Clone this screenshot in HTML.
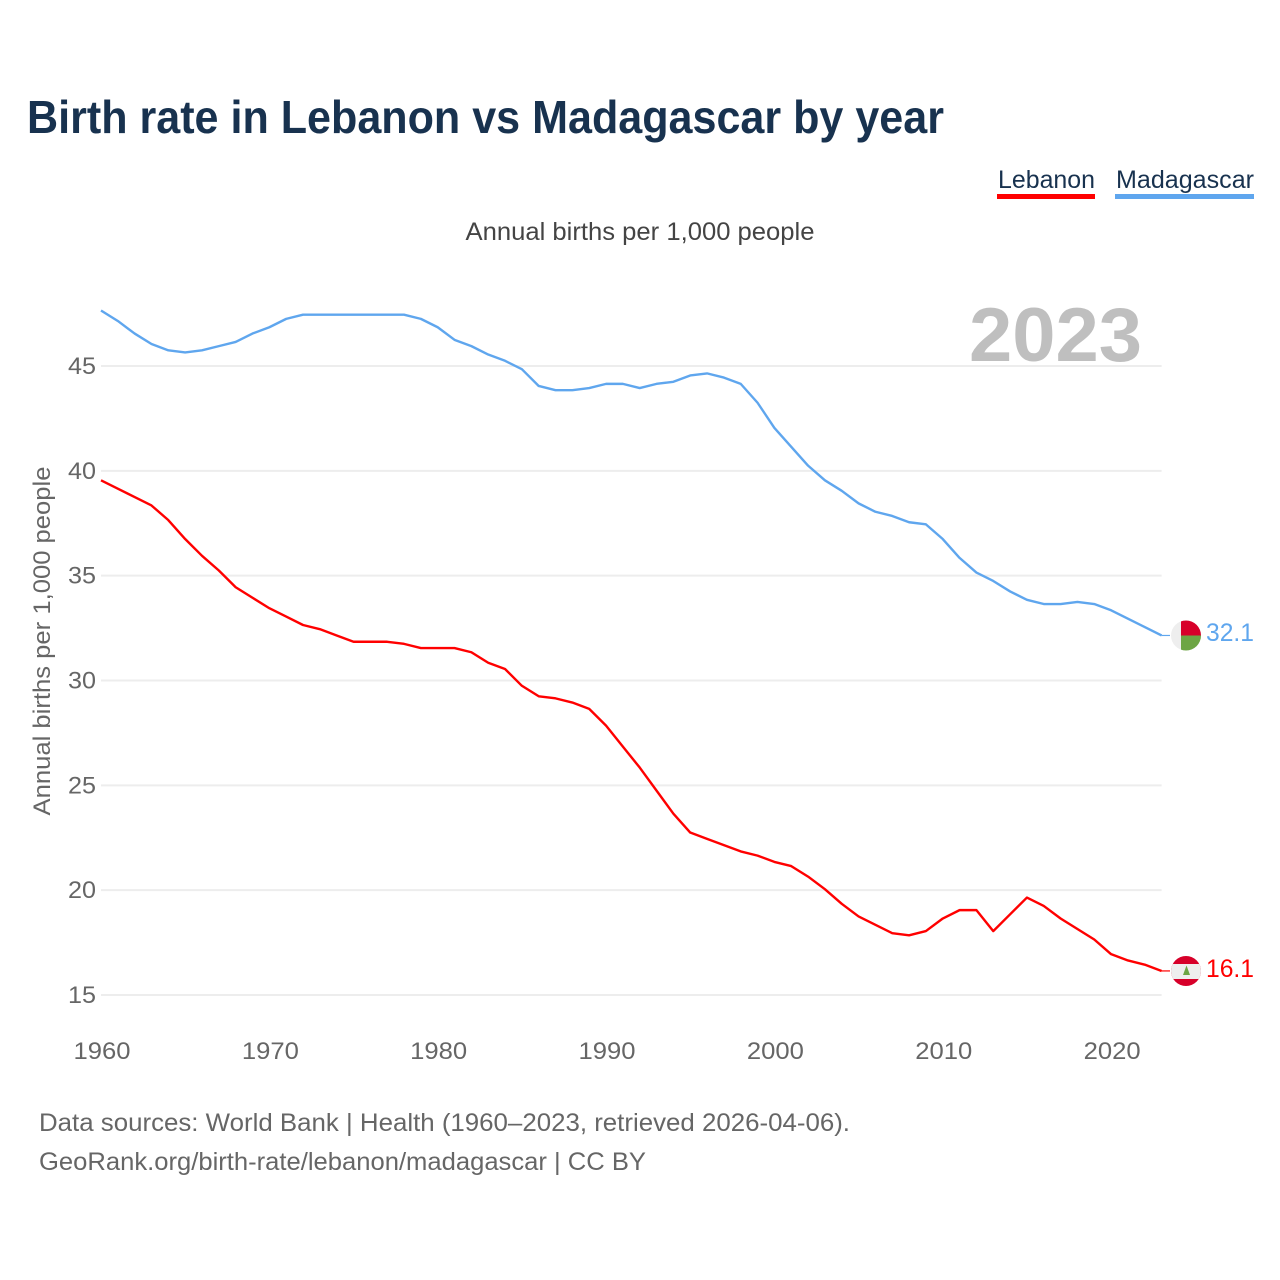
<!DOCTYPE html>
<html lang="en">
<head>
<meta charset="utf-8">
<title>Birth rate in Lebanon vs Madagascar by year</title>
<style>
html,body{margin:0;padding:0;background:#fff;width:1280px;height:1280px;overflow:hidden}
svg{display:block}
text{font-family:"Liberation Sans",sans-serif}
</style>
</head>
<body>
<svg id="chart" xmlns="http://www.w3.org/2000/svg" width="1280" height="1280" viewBox="0 0 1280 1280">
  <defs>
    <clipPath id="flag-clip-mg"><circle cx="1186" cy="635.5" r="15"/></clipPath>
    <clipPath id="flag-clip-lb"><circle cx="1186" cy="971" r="15"/></clipPath>
  </defs>
  <rect width="1280" height="1280" fill="#fff"/>
  <text x="27" y="133" font-size="46" font-weight="700" fill="#18324f" textLength="917" lengthAdjust="spacingAndGlyphs">Birth rate in Lebanon vs Madagascar by year</text>

  <g>
    <text x="998" y="188" font-size="25" fill="#18324f" textLength="97" lengthAdjust="spacingAndGlyphs">Lebanon</text>
    <rect x="997" y="194" width="98" height="5" fill="#ff0000"/>
  </g>
  <g>
    <text x="1116" y="188" font-size="25" fill="#18324f" textLength="138" lengthAdjust="spacingAndGlyphs">Madagascar</text>
    <rect x="1115" y="194" width="139" height="5" fill="#5fa6ee"/>
  </g>

  <text x="640" y="240" font-size="25" fill="#444" text-anchor="middle" textLength="349" lengthAdjust="spacingAndGlyphs">Annual births per 1,000 people</text>
  <text x="969" y="361" font-size="76" font-weight="700" fill="#bfbfbf" textLength="173" lengthAdjust="spacingAndGlyphs">2023</text>
  <text transform="translate(50 641) rotate(-90)" font-size="24" fill="#666" text-anchor="middle" textLength="349" lengthAdjust="spacingAndGlyphs">Annual births per 1,000 people</text>

  <g id="grid"></g>
  <g id="y-ticks"></g>
  <g id="x-ticks"></g>
  <g id="series"></g>

  <g clip-path="url(#flag-clip-mg)">
    <rect x="1171" y="620" width="30" height="31" fill="#eeeeee"/>
    <rect x="1181" y="620" width="20" height="15.5" fill="#d7002a"/>
    <rect x="1181" y="635.5" width="20" height="15.5" fill="#6da544"/>
  </g>
  <g clip-path="url(#flag-clip-lb)">
    <rect x="1171" y="956" width="30" height="30" fill="#d7002a"/>
    <rect x="1171" y="964" width="30" height="15" fill="#eeeeee"/>
    <path d="M1186.500 965.500 L1190 975 L1183 975 Z" fill="#6da544"/>
  </g>

  <text id="end-label-madagascar" x="1206" y="641" font-size="25" fill="#5fa6ee" textLength="48" lengthAdjust="spacingAndGlyphs"></text>
  <text id="end-label-lebanon" x="1206" y="977" font-size="25" fill="#ff0000" textLength="48" lengthAdjust="spacingAndGlyphs"></text>

  <text x="39" y="1131" font-size="25" fill="#666" textLength="811" lengthAdjust="spacingAndGlyphs">Data sources: World Bank | Health (1960–2023, retrieved 2026-04-06).</text>
  <text x="39" y="1170" font-size="25" fill="#666" textLength="607" lengthAdjust="spacingAndGlyphs">GeoRank.org/birth-rate/lebanon/madagascar | CC BY</text>
</svg>
<script>
const startYear = 1960;
const yTickValues = [15, 20, 25, 30, 35, 40, 45];
const xTickValues = [1960, 1970, 1980, 1990, 2000, 2010, 2020];
const lebanonValues = [39.5,39.1,38.7,38.3,37.6,36.7,35.9,35.2,34.4,33.9,33.4,33.0,32.6,32.4,32.1,31.8,31.8,31.8,31.7,31.5,31.5,31.5,31.3,30.8,30.5,29.7,29.2,29.1,28.9,28.6,27.8,26.8,25.8,24.7,23.6,22.7,22.4,22.1,21.8,21.6,21.3,21.1,20.6,20.0,19.3,18.7,18.3,17.9,17.8,18.0,18.6,19.0,19.0,18.0,18.8,19.6,19.2,18.6,18.1,17.6,16.9,16.6,16.4,16.1];
const madagascarValues = [47.6,47.1,46.5,46.0,45.7,45.6,45.7,45.9,46.1,46.5,46.8,47.2,47.4,47.4,47.4,47.4,47.4,47.4,47.4,47.2,46.8,46.2,45.9,45.5,45.2,44.8,44.0,43.8,43.8,43.9,44.1,44.1,43.9,44.1,44.2,44.5,44.6,44.4,44.1,43.2,42.0,41.1,40.2,39.5,39.0,38.4,38.0,37.8,37.5,37.4,36.7,35.8,35.1,34.7,34.2,33.8,33.6,33.6,33.7,33.6,33.3,32.9,32.5,32.1];

const SVG_NS = 'http://www.w3.org/2000/svg';
const plotLeft = 101, plotRight = 1161.6, connectorEnd = 1170;
const lineOffset = -1;
const xScale = function (year) { return plotLeft + (year - startYear) * (plotRight - plotLeft) / 63; };
const yScale = function (value) { return 995 + (value - 15) * (366 - 995) / 30; };

function make(tag, parent, attrs, content) {
  const el = document.createElementNS(SVG_NS, tag);
  Object.keys(attrs).forEach(function (k) { el.setAttribute(k, attrs[k]); });
  if (content !== undefined) el.textContent = content;
  parent.appendChild(el);
  return el;
}

const grid = document.getElementById('grid');
const yTicks = document.getElementById('y-ticks');
const xTicks = document.getElementById('x-ticks');
const series = document.getElementById('series');

yTickValues.forEach(function (v) {
  const line = make('line', grid, { x1: plotLeft, x2: plotRight, y1: yScale(v), y2: yScale(v), stroke: '#ededed', 'stroke-width': 2 });
  
  
  const label = make('text', yTicks, { x: 96, y: yScale(v) + 8, 'font-size': 24, fill: '#666', 'text-anchor': 'end', textLength: 28, lengthAdjust: 'spacingAndGlyphs' }, String(v));
  
  
});

xTickValues.forEach(function (yr) {
  const label = make('text', xTicks, { x: xScale(yr) + 1, y: 1059, 'font-size': 24, fill: '#666', 'text-anchor': 'middle', textLength: 57, lengthAdjust: 'spacingAndGlyphs' }, String(yr));
  
  
});

function linePoints(values) {
  return values.map(function (v, i) {
    return xScale(startYear + i).toFixed(2) + ',' + (yScale(v) + lineOffset).toFixed(2);
  }).join(' ');
}

const madagascarLine = make('polyline', series, { points: linePoints(madagascarValues), fill: 'none', stroke: '#5fa6ee', 'stroke-width': 2.4, 'stroke-linejoin': 'round' });



const lebanonLine = make('polyline', series, { points: linePoints(lebanonValues), fill: 'none', stroke: '#ff0000', 'stroke-width': 2.4, 'stroke-linejoin': 'round' });



const lastMadagascar = madagascarValues[madagascarValues.length - 1];
const lastLebanon = lebanonValues[lebanonValues.length - 1];

const madagascarConnector = make('line', series, { x1: plotRight, x2: connectorEnd, y1: yScale(lastMadagascar) + lineOffset, y2: yScale(lastMadagascar) + lineOffset, stroke: '#5fa6ee', 'stroke-width': 1.2 });



const lebanonConnector = make('line', series, { x1: plotRight, x2: connectorEnd, y1: yScale(lastLebanon) + lineOffset, y2: yScale(lastLebanon) + lineOffset, stroke: '#ff0000', 'stroke-width': 1.2 });



document.getElementById('end-label-madagascar').textContent = lastMadagascar.toFixed(1);
document.getElementById('end-label-lebanon').textContent = lastLebanon.toFixed(1);
</script>
</body>
</html>
